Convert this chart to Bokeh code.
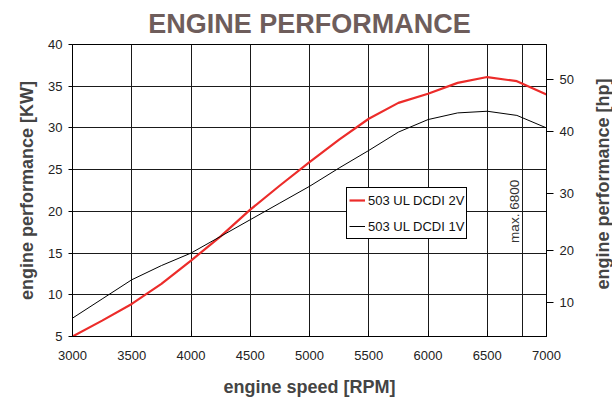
from bokeh.plotting import figure
from bokeh.layouts import row
from bokeh.models import (Range1d, FixedTicker, LinearAxis, Legend, LegendItem,
                          ColumnDataSource)
from bokeh.core.properties import value
from bokeh.embed import file_html
from bokeh.resources import INLINE
import math

# ---- data ----
rpm = [3000, 3250, 3500, 3750, 4000, 4250, 4500, 4750, 5000, 5250,
       5500, 5750, 6000, 6250, 6500, 6750, 7000]
kw_2v = [5.0, 6.9, 8.9, 11.3, 14.1, 17.0, 20.2, 23.1, 25.9, 28.6,
         31.1, 33.0, 34.1, 35.4, 36.1, 35.6, 34.0]
kw_1v = [7.2, 9.5, 11.8, 13.5, 15.0, 17.0, 19.0, 21.0, 23.0, 25.2,
         27.3, 29.5, 31.0, 31.8, 32.0, 31.5, 30.0]
series_names = ["503 UL DCDI 2V", "503 UL DCDI 1V"]

x_ticks = [3000, 3500, 4000, 4500, 5000, 5500, 6000, 6500, 7000]
y_ticks = [5, 10, 15, 20, 25, 30, 35, 40]
max_rpm = 6800
hp_tick_kw = [9.13, 15.25, 22.1, 29.6, 35.78]
hp_tick_labels = ["10", "20", "30", "40", "50"]
hp_axis_title = "engine performance [hp]"

FONT = "Liberation Sans"

p = figure(width=584, height=401, frame_width=474, frame_height=292,
           x_range=Range1d(3000, 7000), y_range=Range1d(5, 40),
           output_backend="svg", toolbar_location=None,
           min_border_left=72, min_border_right=38,
           min_border_top=44, min_border_bottom=65,
           title="ENGINE PERFORMANCE")

p.title.text_font = FONT
p.title.text_font_size = "27px"
p.title.text_font_style = "bold"
p.title.text_color = "#6e5d5b"
p.title.align = "center"
p.title.standoff = 12

p.outline_line_color = "black"
p.outline_line_width = 1
p.outline_line_alpha = 1

# grids
p.xgrid.ticker = FixedTicker(ticks=x_ticks + [max_rpm])
p.ygrid.ticker = FixedTicker(ticks=y_ticks)
for g in (p.xgrid, p.ygrid):
    g.grid_line_color = "#1a1a1a"
    g.grid_line_alpha = 1
    g.grid_line_width = 1

# bottom axis
xa = p.xaxis[0]
xa.ticker = FixedTicker(ticks=x_ticks)
xa.axis_label = "engine speed [RPM]"
xa.major_tick_in = 6
xa.major_tick_out = 0
xa.minor_tick_in = 0
xa.minor_tick_out = 0
xa.major_label_standoff = 14
xa.axis_label_standoff = 14

# left axis
ya = p.yaxis[0]
ya.ticker = FixedTicker(ticks=y_ticks)
ya.axis_label = "engine performance [KW]"
ya.major_tick_in = 0
ya.major_tick_out = 4
ya.minor_tick_in = 0
ya.minor_tick_out = 0
ya.major_label_standoff = 6
ya.axis_label_standoff = 8

# right axis (hp ticks)
ra = LinearAxis(ticker=FixedTicker(ticks=hp_tick_kw),
                major_label_overrides={k: l for k, l in zip(hp_tick_kw, hp_tick_labels)})
ra.major_tick_in = 0
ra.major_tick_out = 7
ra.minor_tick_in = 0
ra.minor_tick_out = 0
ra.major_label_standoff = 6
p.add_layout(ra, "right")

for ax in (xa, ya, ra):
    ax.axis_line_color = "black"
    ax.major_tick_line_color = "black"
    ax.major_label_text_font = FONT
    ax.major_label_text_font_size = "13px"
    ax.major_label_text_color = "#222222"
    ax.axis_label_text_font = FONT
    ax.axis_label_text_font_size = "18px"
    ax.axis_label_text_font_style = "bold"
    ax.axis_label_text_color = "#444444"

# curves
src = ColumnDataSource(dict(rpm=rpm, kw2=kw_2v, kw1=kw_1v))
r2 = p.line("rpm", "kw2", source=src, line_color="#ec2c2a", line_width=2.2)
r1 = p.line("rpm", "kw1", source=src, line_color="black", line_width=1)

# max annotation
p.text(x=[max_rpm], y=[20.0], text=["max. 6800"], angle=math.pi / 2,
       text_font=value(FONT), text_font_size="13.5px", text_color="#333333",
       text_align="center", text_baseline="bottom", x_offset=-1)

legend = Legend(items=[LegendItem(label=series_names[0], renderers=[r2]),
                       LegendItem(label=series_names[1], renderers=[r1])],
                location=(274, 97))
legend.label_text_font = FONT
legend.label_text_font_size = "13px"
legend.label_text_color = "#111111"
legend.border_line_color = "black"
legend.border_line_width = 1
legend.border_line_alpha = 1
legend.background_fill_color = "white"
legend.background_fill_alpha = 1
legend.glyph_width = 16
legend.glyph_height = 20
legend.label_standoff = 3
legend.padding = 2
legend.spacing = 6
legend.margin = 0
p.add_layout(legend, "center")

# narrow strip on the right that carries the hp axis title (bottom-to-top)
q = figure(width=28, height=401, x_range=Range1d(0, 28), y_range=Range1d(0, 401),
           output_backend="svg", toolbar_location=None,
           min_border=0, min_border_left=0, min_border_right=0,
           min_border_top=0, min_border_bottom=0)
q.outline_line_color = None
q.axis.visible = False
q.grid.visible = False
q.text(x=[8], y=[209.5], text=[hp_axis_title], angle=math.pi / 2,
       text_font=value(FONT), text_font_size="18px", text_font_style="bold",
       text_color="#444444", text_align="center", text_baseline="top")

layout = row(p, q, spacing=0)
open("out.html", "w").write(file_html(layout, INLINE))
